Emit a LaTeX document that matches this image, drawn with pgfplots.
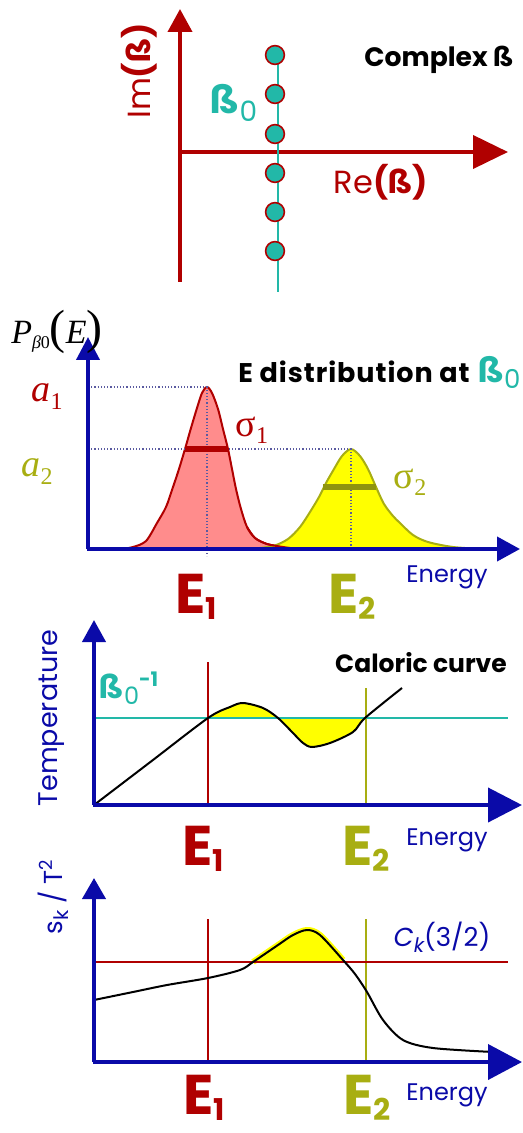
\documentclass[border=0pt]{standalone}
\usepackage{fontspec}
\setmainfont{Poppins}
\newfontfamily\tnr{Liberation Serif}
\usepackage{pgfplots}
\pgfplotsset{compat=1.18}
\usetikzlibrary{arrows.meta}

\definecolor{dred}{HTML}{B00000}
\definecolor{tealc}{HTML}{22B8A8}
\definecolor{dblue}{HTML}{0A0AA8}
\definecolor{olivec}{HTML}{A8AE12}
\definecolor{pinkf}{HTML}{FF8C8C}
\definecolor{yel}{HTML}{FFFF00}
\definecolor{dotc}{HTML}{5A5AA0}

\newcommand\fs[1]{\fontsize{#1}{#1}\selectfont}
% big bold energy marks E_1, E_2
\newcommand\Elab[1]{{\bfseries\fs{28}E\raisebox{-3pt}{\fs{15}#1}}}

\pgfplotsset{panel/.style={hide axis, clip=false, x=0.5pt, y=0.5pt, anchor=south west}}

\begin{document}
\begin{tikzpicture}

% ---- complex beta plane
\begin{axis}[panel, at={(0pt,-147.5pt)}, xmin=-180, xmax=343, ymin=-143, ymax=152]
\addplot[dred, line width=2pt, -{Triangle[length=17.5pt,width=16.5pt]}] coordinates {(-1,0) (328,0)};
\addplot[dred, line width=2pt, -{Triangle[length=11.5pt,width=12pt]}] coordinates {(0,-130) (0,143)};
\addplot[tealc, line width=1pt] coordinates {(98,105) (98,-140)};
\addplot[only marks, mark=*, mark size=4.7pt, mark options={fill=tealc, draw=dred, line width=0.8pt}]
  coordinates {(95,97) (95,58) (95,18) (95,-21) (95,-60) (95,-99)};
\node[anchor=center] at (axis cs:259,92) {\bfseries\fs{13.3}Complex ß};
\node[rotate=90, dred] at (axis cs:-41,81) {\fs{16}Im\textbf{(ß)}};
\node[dred] at (axis cs:201,-30) {\fs{16}Re\textbf{(ß)}};
\node[tealc] at (axis cs:54,49) {\bfseries\fs{19}ß\raisebox{-4pt}{\mdseries\fs{14}0}};
\end{axis}

% ---- energy distribution
\begin{axis}[panel, at={(0pt,-312.5pt)}, xmin=-88, xmax=435, ymin=-76, ymax=254]
\addplot[fill=pinkf, draw=dred, line width=1pt, smooth] coordinates {
  (0,0) (32,0) (45,2) (58,8) (69,26) (78,42) (84,59) (91,80) (97,100) (103,121)
  (109,141) (114,156) (119,162) (124,156) (130,140) (135,120) (140,100) (144,80)
  (148,60) (153,40) (159,22) (167,11) (179,5) (195,2) (210,0)} \closedcycle;
\addplot[fill=yel, draw=olivec, line width=1pt, smooth] coordinates {
  (162,0) (185,3) (200,10) (212,22) (222,37) (231,52) (238,66) (246,80) (254,93)
  (263,100) (272,93) (280,80) (288,62) (296,45) (305,33) (312,26) (325,14)
  (340,7) (365,2) (395,0)} \closedcycle;
\addplot[dred, line width=1pt, smooth] coordinates {(159,22) (167,11) (179,5) (195,2) (210,0)};
\addplot[dotc, densely dotted, line width=0.6pt] coordinates {(0,162) (119,162) (119,-7)};
\addplot[dotc, densely dotted, line width=0.6pt] coordinates {(0,100) (263,100) (263,0)};
\addplot[dred, line width=3pt] coordinates {(97,100) (140,100)};
\addplot[olivec!85!black, line width=2.6pt] coordinates {(235,62) (288,62)};
\addplot[dblue, line width=2pt, -{Triangle[length=11.5pt,width=12pt]}] coordinates {(-1,0) (432,0)};
\addplot[dblue, line width=2pt, -{Triangle[length=11.5pt,width=11.5pt]}] coordinates {(0,0) (0,212)};
\node at (axis cs:-31,217) {\tnr\fs{17}\itshape P\raisebox{-2.5pt}{\fs{9}β\upshape 0}\upshape\fs{24}(\itshape\fs{17}E\upshape\fs{24})};
\node[dred] at (axis cs:-41,152) {\tnr\fs{19}\itshape a\raisebox{-4pt}{\fs{12}\upshape 1}};
\node[olivec] at (axis cs:-51,77) {\tnr\fs{19}\itshape a\raisebox{-4pt}{\fs{12}\upshape 2}};
\node[dred] at (axis cs:164,119) {\tnr\fs{19}σ\raisebox{-3.5pt}{\fs{12}1}};
\node[olivec] at (axis cs:322,67) {\tnr\fs{19}σ\raisebox{-3.5pt}{\fs{12}2}};
\node[anchor=west, inner sep=0pt] at (axis cs:150,177) {\bfseries\fs{13.5}\addfontfeatures{LetterSpace=3.5}E distribution at};
\node[anchor=west, inner sep=0pt, tealc] at (axis cs:390,177) {\bfseries\fs{17}ß\raisebox{-3pt}{\mdseries\fs{13}0}};
\node[dblue] at (axis cs:359,-28) {\fs{12}Energy};
\node[dred, anchor=base, inner sep=0pt] at (axis cs:108,-64) {\Elab{1}};
\node[olivec, anchor=base, inner sep=0pt] at (axis cs:264,-64) {\Elab{2}};
\end{axis}

% ---- caloric curve
\begin{axis}[panel, at={(0pt,-435pt)}, xmin=-94, xmax=429, ymin=-65, ymax=190]
\addplot[fill=yel, draw=none, smooth] coordinates {
  (114,87) (136,98) (149,102) (169,97) (184,87) (199,72) (209,62) (218,58)
  (236,62) (259,73) (271,87)} -- cycle;
\addplot[dred, line width=0.8pt] coordinates {(114,0) (114,143)};
\addplot[olivec, line width=0.8pt] coordinates {(272,0) (272,117)};
\addplot[tealc, line width=0.8pt] coordinates {(0,87) (414,87)};
\addplot[black, line width=1pt, smooth] coordinates {
  (0,0) (57,43.5) (114,87) (136,98) (149,102) (169,97) (184,87) (199,72) (209,62)
  (218,58) (236,62) (259,73) (271,87) (308,117)};
\addplot[dblue, line width=2pt, -{Triangle[length=17pt,width=17pt]}] coordinates {(-1,0) (428,0)};
\addplot[dblue, line width=2pt, -{Triangle[length=11pt,width=11.5pt]}] coordinates {(0,0) (0,185)};
\node at (axis cs:327,142) {\bfseries\fs{12.5}Caloric curve};
\node[tealc] at (axis cs:35,117) {\bfseries\fs{16}ß\raisebox{-3pt}{\mdseries\fs{12}0}\raisebox{6pt}{\fs{10}-1}};
\node[rotate=90, dblue] at (axis cs:-42,87) {\fs{13.5}Temperature};
\node[dblue] at (axis cs:353,-35) {\fs{12}Energy};
\node[dred, anchor=base, inner sep=0pt] at (axis cs:109,-60) {\Elab{1}};
\node[olivec, anchor=base, inner sep=0pt] at (axis cs:272,-60) {\Elab{2}};
\end{axis}

% ---- kinetic energy fluctuations
\begin{axis}[panel, at={(0pt,-566.5pt)}, xmin=-94, xmax=429, ymin=-71, ymax=227]
\addplot[yel, line width=3pt, smooth] coordinates {
  (159,100) (184,117) (199,127) (213,132) (226,127) (249,102)};
\addplot[fill=yel, draw=none, smooth] coordinates {
  (159,100) (184,117) (199,127) (213,132) (226,127) (249,100)} -- cycle;
\addplot[dred, line width=0.8pt] coordinates {(114,0) (114,143)};
\addplot[olivec, line width=0.8pt] coordinates {(272,0) (272,143)};
\addplot[dred, line width=0.8pt] coordinates {(0,100) (414,100)};
\addplot[black, line width=1pt, smooth] coordinates {
  (0,62) (39,70) (73,77) (114,84) (146,92) (159,100) (184,117) (199,127) (213,132)
  (226,127) (249,102) (261,88) (273,70) (289,42) (309,22) (339,14) (399,10)};
\addplot[dblue, line width=2pt, -{Triangle[length=17pt,width=17.5pt]}] coordinates {(-1,0) (428,0)};
\addplot[dblue, line width=2pt, -{Triangle[length=10.5pt,width=11.5pt]}] coordinates {(0,0) (0,184)};
\node[dblue] at (axis cs:348,125) {\fs{13}\itshape C\raisebox{-3pt}{\fs{10}k}\upshape(3/2)};
\node[rotate=90, dblue] at (axis cs:-41,165) {\fs{13}s\raisebox{-3pt}{\fs{10}k} / T\raisebox{5pt}{\fs{9}2}};
\node[dblue] at (axis cs:353,-33) {\fs{12}Energy};
\node[dred, anchor=base, inner sep=0pt] at (axis cs:110,-52) {\Elab{1}};
\node[olivec, anchor=base, inner sep=0pt] at (axis cs:273,-52) {\Elab{2}};
\end{axis}

\pgfresetboundingbox
\useasboundingbox (0,0) rectangle (261.5pt,-566.5pt);
\end{tikzpicture}
\end{document}
